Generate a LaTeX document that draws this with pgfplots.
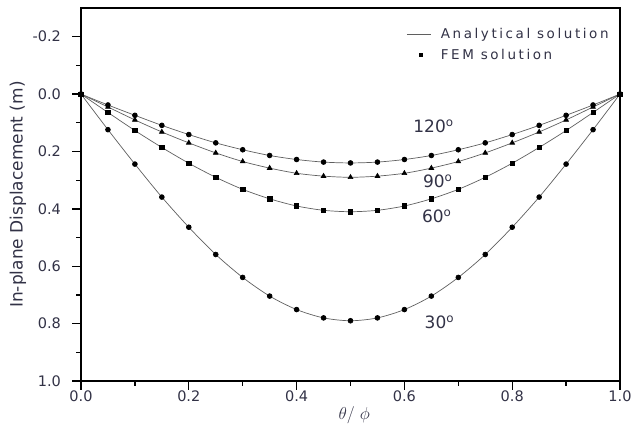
\documentclass[border=0pt]{standalone}
\usepackage{fontspec}
\setmainfont{DejaVu Sans}
\usepackage{pgfplots}
\pgfplotsset{compat=1.18}
\definecolor{txt}{RGB}{50,50,70}
\definecolor{ln}{RGB}{95,95,95}
\pgfplotsset{
  linelegend/.style={legend image code/.code={\draw[##1] (0pt,0pt) -- (24pt,0pt); \path[draw=none,fill=none] (0pt,0pt) (34pt,0pt);}},
  marklegend/.style={legend image code/.code={\draw[##1] plot coordinates {(14pt,0pt)}; \path[draw=none,fill=none] (0pt,0pt) (34pt,0pt);}},
}
\begin{document}
\begin{tikzpicture}
\begin{axis}[name=ax, scale only axis, width=539pt, height=373pt, clip=false,
  xmin=0, xmax=1, ymin=-0.3, ymax=1.0, y dir=reverse,
  xtick={0,0.2,0.4,0.6,0.8,1.0},
  ytick={-0.2,0,0.2,0.4,0.6,0.8,1.0},
  minor x tick num=1, minor y tick num=1,
  tick align=outside, xtick pos=bottom, ytick pos=left,
  axis line style={line width=1.4pt},
  major tick length=8.5pt, minor tick length=4.5pt,
  tick style={line width=1.3pt, black},
  xticklabel style={/pgf/number format/fixed, /pgf/number format/fixed zerofill, /pgf/number format/precision=1, yshift=2pt},
  yticklabel style={/pgf/number format/fixed, /pgf/number format/fixed zerofill, /pgf/number format/precision=1, xshift=-8pt},
  /pgf/number format/assume math mode=true,
  ticklabel style={font=\fontsize{14.5}{16}\selectfont, text=txt},
  ylabel={In-plane Displacement (m)},
  ylabel style={font=\fontsize{17}{19}\selectfont, text=txt, at={(rel axis cs:-0.117,0.5)}, anchor=center},
  xlabel={$\theta/\ \phi$},
  xlabel style={font=\fontsize{16}{18}\selectfont, text=txt, at={(rel axis cs:0.507,-0.091)}, anchor=center},
  legend style={at={(0.6035,0.946)}, anchor=north west, draw=none, fill=none,
    inner sep=0pt, nodes={inner sep=0pt},
    font=\fontsize{13.5}{15}\selectfont\addfontfeatures{LetterSpace=19}, text=txt, row sep=9pt},
  legend cell align=left,
]
\addlegendimage{ln, line width=0.8pt, linelegend}
\addlegendentry{Analytical solution}
\addlegendimage{only marks, mark=square*, mark size=1.7pt, black, marklegend}
\addlegendentry{FEM solution}

% 30 deg
\addplot[ln, line width=0.7pt, smooth, mark=*, mark size=2.4pt, mark options={black, fill=black}, forget plot] coordinates {
(0,0) (0.05,0.124) (0.1,0.244) (0.15,0.359) (0.2,0.464) (0.25,0.559) (0.3,0.639) (0.35,0.704) (0.4,0.751) (0.45,0.780) (0.5,0.790)
(0.55,0.780) (0.6,0.751) (0.65,0.704) (0.7,0.639) (0.75,0.559) (0.8,0.464) (0.85,0.359) (0.9,0.244) (0.95,0.124) (1.0,0)};
% 60 deg
\addplot[ln, line width=0.7pt, smooth, mark=square*, mark size=2.2pt, mark options={black, fill=black}, forget plot] coordinates {
(0,0) (0.05,0.064) (0.1,0.127) (0.15,0.186) (0.2,0.241) (0.25,0.290) (0.3,0.332) (0.35,0.365) (0.4,0.390) (0.45,0.405) (0.5,0.410)
(0.55,0.405) (0.6,0.390) (0.65,0.365) (0.7,0.332) (0.75,0.290) (0.8,0.241) (0.85,0.186) (0.9,0.127) (0.95,0.064) (1.0,0)};
% 90 deg
\addplot[ln, line width=0.7pt, smooth, mark=triangle*, mark size=2.7pt, mark options={black, fill=black}, forget plot] coordinates {
(0,0) (0.05,0.045) (0.1,0.090) (0.15,0.132) (0.2,0.170) (0.25,0.205) (0.3,0.235) (0.35,0.258) (0.4,0.276) (0.45,0.286) (0.5,0.290)
(0.55,0.286) (0.6,0.276) (0.65,0.258) (0.7,0.235) (0.75,0.205) (0.8,0.170) (0.85,0.132) (0.9,0.090) (0.95,0.045) (1.0,0)};
% 120 deg
\addplot[ln, line width=0.7pt, smooth, mark=*, mark size=2.4pt, mark options={black, fill=black}, forget plot] coordinates {
(0,0) (0.05,0.038) (0.1,0.074) (0.15,0.109) (0.2,0.141) (0.25,0.170) (0.3,0.194) (0.35,0.214) (0.4,0.228) (0.45,0.237) (0.5,0.240)
(0.55,0.237) (0.6,0.228) (0.65,0.214) (0.7,0.194) (0.75,0.170) (0.8,0.141) (0.85,0.109) (0.9,0.074) (0.95,0.038) (1.0,0)};

\node[font=\fontsize{17}{19}\selectfont, text=txt] at (axis cs:0.654,0.112) {120\textsuperscript{o}};
\node[font=\fontsize{17}{19}\selectfont, text=txt] at (axis cs:0.662,0.303) {90\textsuperscript{o}};
\node[font=\fontsize{17}{19}\selectfont, text=txt] at (axis cs:0.660,0.425) {60\textsuperscript{o}};
\node[font=\fontsize{17}{19}\selectfont, text=txt] at (axis cs:0.665,0.795) {30\textsuperscript{o}};
\end{axis}
\pgfresetboundingbox
\path ([xshift=-81pt,yshift=-48pt]ax.south west) rectangle ([xshift=11pt,yshift=8pt]ax.north east);
\end{tikzpicture}
\end{document}
